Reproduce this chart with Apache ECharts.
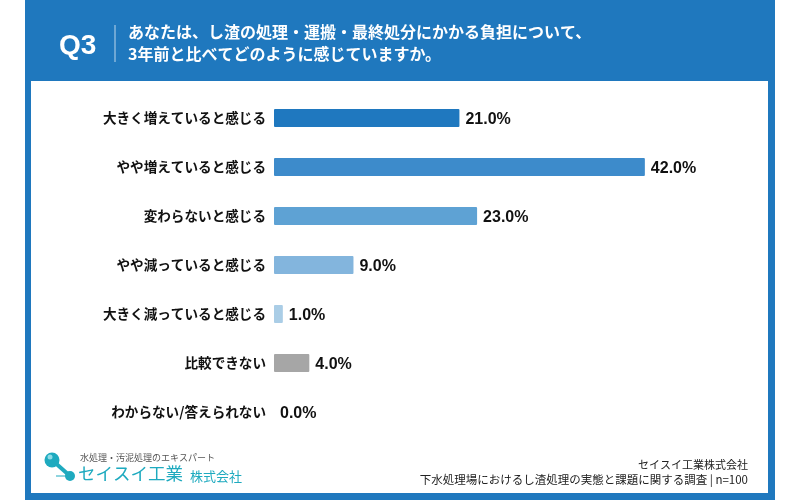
<!DOCTYPE html>
<html>
<head>
<meta charset="utf-8">
<script src="https://cdn.jsdelivr.net/npm/echarts@6/dist/echarts.min.js"></script>
<style>
  html, body { margin: 0; padding: 0; background: #fff; }
  #chart { width: 800px; height: 500px; }
</style>
</head>
<body>
<div id="chart"></div>
<script>
  // 回答カテゴリ（上から順）
  var categories = [
    '大きく増えていると感じる',
    'やや増えていると感じる',
    '変わらないと感じる',
    'やや減っていると感じる',
    '大きく減っていると感じる',
    '比較できない',
    'わからない/答えられない'
  ];
  var values = [21.0, 42.0, 23.0, 9.0, 1.0, 4.0, 0.0];
  var barColors = ['#1f78bf', '#3d8bcb', '#5ea2d4', '#83b5dd', '#aacde6', '#a6a6a6', '#a6a6a6'];
  var questionLines = [
    'あなたは、し渣の処理・運搬・最終処分にかかる負担について、',
    '3年前と比べてどのように感じていますか。'
  ];
  var sourceLines = [
    'セイスイ工業株式会社',
    '下水処理場におけるし渣処理の実態と課題に関する調査 | n=100'
  ];

  var font = '"Noto Sans CJK JP", "Noto Sans", sans-serif';
  var latin = '"Liberation Sans", Arial, sans-serif';
  var blue = '#1f78be';
  var teal = '#1eaabf';

  var chart = echarts.init(document.getElementById('chart'));

  var seriesData = [];
  for (var i = 0; i < values.length; i++) {
    seriesData.push({
      value: values[i],
      itemStyle: { color: barColors[i] }
    });
  }

  chart.setOption({
    backgroundColor: '#fff',
    animation: false,
    grid: {
      left: 274,
      width: 441.5,
      top: 93.5,
      height: 343
    },
    xAxis: {
      type: 'value',
      min: 0,
      max: 50,
      show: false
    },
    yAxis: {
      type: 'category',
      inverse: true,
      data: categories,
      axisLine: { show: false },
      axisTick: { show: false },
      splitLine: { show: false },
      axisLabel: {
        margin: 8,
        color: '#111',
        fontSize: 13.6,
        fontWeight: 'bold',
        fontFamily: font
      }
    },
    series: [
      {
        type: 'bar',
        data: seriesData,
        barWidth: 18,
        itemStyle: { borderRadius: 1 },
        label: {
          show: true,
          position: 'right',
          distance: 6,
          offset: [0, 1.5],
          color: '#111',
          fontSize: 16,
          fontWeight: 'bold',
          fontFamily: latin,
          formatter: function (p) {
            return p.value.toFixed(1) + '%';
          }
        }
      }
    ],
    graphic: [
      // 外枠
      { type: 'rect', z: -10, shape: { x: 25, y: 0, width: 750, height: 500 }, style: { fill: blue } },
      { type: 'rect', z: -9, shape: { x: 31, y: 81, width: 737, height: 412 }, style: { fill: '#fff' } },
      // ヘッダー
      {
        type: 'text', left: 59, top: 32,
        style: { text: 'Q3', fill: '#fff', font: 'bold 28px ' + latin }
      },
      {
        type: 'line',
        shape: { x1: 115, y1: 25, x2: 115, y2: 62 },
        style: { stroke: 'rgba(255,255,255,0.7)', lineWidth: 1 }
      },
      {
        type: 'text', left: 128, top: 24,
        style: { text: questionLines[0], fill: '#fff', font: 'bold 16px ' + font }
      },
      {
        type: 'text', left: 128, top: 46,
        style: { text: questionLines[1], fill: '#fff', font: 'bold 16px ' + font }
      },
      // ロゴ
      { type: 'line', shape: { x1: 52, y1: 460, x2: 70, y2: 476 }, style: { stroke: teal, lineWidth: 4 } },
      { type: 'circle', shape: { cx: 52, cy: 460, r: 7.5 }, style: { fill: teal } },
      { type: 'circle', shape: { cx: 50, cy: 457, r: 2.5 }, style: { fill: '#8fdbe6' } },
      { type: 'circle', shape: { cx: 70, cy: 476, r: 5 }, style: { fill: teal } },
      { type: 'line', shape: { x1: 56, y1: 476, x2: 66, y2: 476 }, style: { stroke: teal, lineWidth: 1 } },
      {
        type: 'text', left: 80, top: 453,
        style: { text: '水処理・汚泥処理のエキスパート', fill: '#555', font: '9px ' + font }
      },
      {
        type: 'text', left: 78, top: 465,
        style: { text: 'セイスイ工業', fill: teal, font: '17.5px ' + font }
      },
      {
        type: 'text', left: 190, top: 470,
        style: { text: '株式会社', fill: teal, font: '13px ' + font }
      },
      // 出典
      {
        type: 'text', right: 52, top: 459,
        style: { text: sourceLines[0], fill: '#222', font: '11px ' + font, align: 'right' }
      },
      {
        type: 'text', right: 52, top: 474,
        style: { text: sourceLines[1], fill: '#222', font: '11.5px ' + font, align: 'right' }
      }
    ]
  });
</script>
</body>
</html>
